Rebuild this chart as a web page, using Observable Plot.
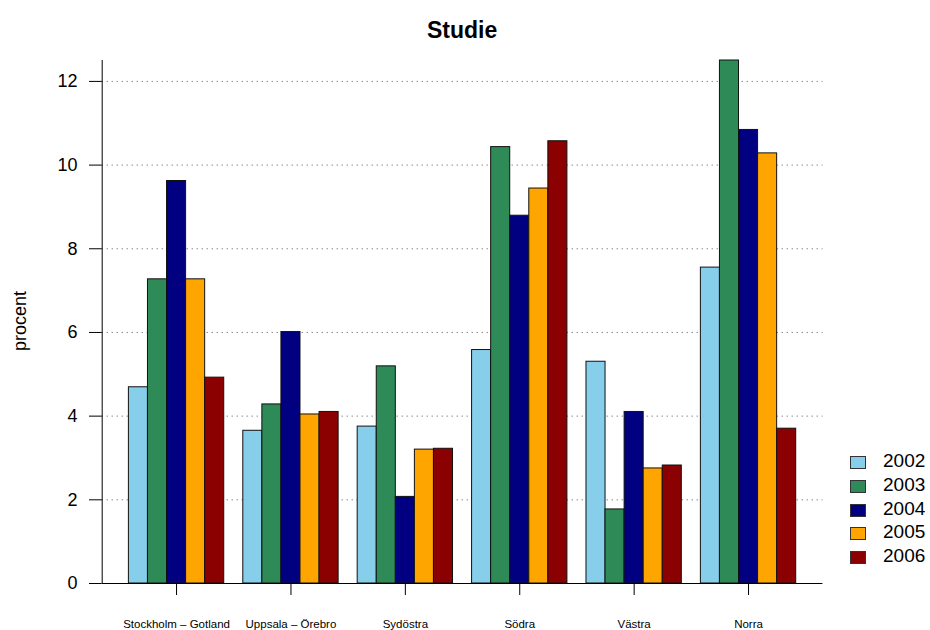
<!DOCTYPE html>
<html>
<head>
<meta charset="utf-8">
<script src="https://cdn.jsdelivr.net/npm/d3@7"></script>
<script src="https://cdn.jsdelivr.net/npm/@observablehq/plot@0.6"></script>
<style>
  html, body { margin: 0; padding: 0; background: #fff; }
  #wrap { position: relative; width: 930px; height: 630px; font-family: "Liberation Sans", Arial, Helvetica, sans-serif; color: #000; }
  #chart { position: absolute; left: 0; top: 0; }
  .title { position: absolute; left: 101.7px; width: 720.7px; top: 19px; text-align: center; font-weight: bold; font-size: 23px; line-height: 23px; }
  .ylab { position: absolute; left: 20px; top: 321px; transform: translate(-50%, -50%) rotate(-90deg); font-size: 18px; line-height: 18px; white-space: nowrap; }
  .legend { position: absolute; left: 850px; top: 450px; }
  .legend .row { position: absolute; left: 0; height: 24px; white-space: nowrap; }
  .legend .sw { position: absolute; left: 0; top: 6px; width: 14px; height: 11px; border: 1px solid #333; }
  .legend .lab { position: absolute; left: 33px; top: 1px; font-size: 19px; line-height: 20px; }
</style>
</head>
<body>
<div id="wrap">
  <div id="chart"></div>
  <div class="title">Studie</div>
  <div class="ylab">procent</div>
  <div class="legend" id="legend"></div>
</div>
<script>
// ---- data ----
const regions = ["Stockholm – Gotland", "Uppsala – Örebro", "Sydöstra", "Södra", "Västra", "Norra"];
const years = ["2002", "2003", "2004", "2005", "2006"];
const v2002 = [4.69, 3.65, 3.75, 5.58, 5.30, 7.55];
const v2003 = [7.27, 4.28, 5.19, 10.43, 1.77, 12.50];
const v2004 = [9.62, 6.01, 2.07, 8.79, 4.10, 10.84];
const v2005 = [7.27, 4.04, 3.20, 9.44, 2.75, 10.28];
const v2006 = [4.92, 4.10, 3.22, 10.57, 2.82, 3.70];
const yTicks = [0, 2, 4, 6, 8, 10, 12];
const colors = ["#87CEEB", "#2E8B57", "#000080", "#FFA500", "#8B0000"];

// ---- build table ----
const series = [v2002, v2003, v2004, v2005, v2006];
const rows = [];
regions.forEach((r, gi) => {
  years.forEach((yr, yi) => {
    rows.push({region: r, year: yr, gi, yi, value: series[yi][gi]});
  });
});
// barplot layout (beside): one empty slot before each group, slot width 1
const groupSize = years.length + 1;
const slotStart = d => d.gi * groupSize + 1 + d.yi;
const totalSlots = regions.length * groupSize;
const pad = (totalSlots - 1) * 0.04;
const xDomain = [1 - pad, totalSlots + pad];
const groupCenters = regions.map((r, i) => i * groupSize + 1 + years.length / 2);
const yMax = d3.max(rows, d => d.value);

const chart = Plot.plot({
  width: 930,
  height: 630,
  marginLeft: 101.7,
  marginRight: 107.6,
  marginTop: 60,
  marginBottom: 47,
  style: {fontFamily: "'Liberation Sans', Arial, Helvetica, sans-serif", background: "white", color: "black"},
  x: {type: "linear", domain: xDomain},
  y: {domain: [0, yMax]},
  color: {domain: years, range: colors},
  marks: [
    Plot.ruleY(yTicks.filter(t => t > 0), {stroke: "#555", strokeDasharray: "1 4", strokeWidth: 1}),
    Plot.rectY(rows, {x1: d => slotStart(d), x2: d => slotStart(d) + 1, y1: 0, y2: "value", fill: "year", stroke: "#111", strokeWidth: 1}),
    Plot.ruleY([0], {stroke: "black"}),
    Plot.ruleX([xDomain[0]], {stroke: "black"}),
    Plot.axisY(yTicks, {tickSize: 12.7, tickPadding: 12, fontSize: 18, label: null}),
    Plot.axisX(groupCenters, {tickSize: 12, tickPadding: 24, fontSize: 11.5, label: null,
      tickFormat: d => regions[Math.round((d - 1 - years.length / 2) / groupSize)]})
  ]
});
document.getElementById("chart").appendChild(chart);

// ---- legend ----
const legend = document.getElementById("legend");
years.forEach((yr, i) => {
  const row = document.createElement("div");
  row.className = "row";
  row.style.top = (i * 23.8) + "px";
  const sw = document.createElement("div");
  sw.className = "sw";
  sw.style.background = colors[i];
  const lab = document.createElement("div");
  lab.className = "lab";
  lab.textContent = yr;
  row.appendChild(sw);
  row.appendChild(lab);
  legend.appendChild(row);
});
</script>
</body>
</html>
